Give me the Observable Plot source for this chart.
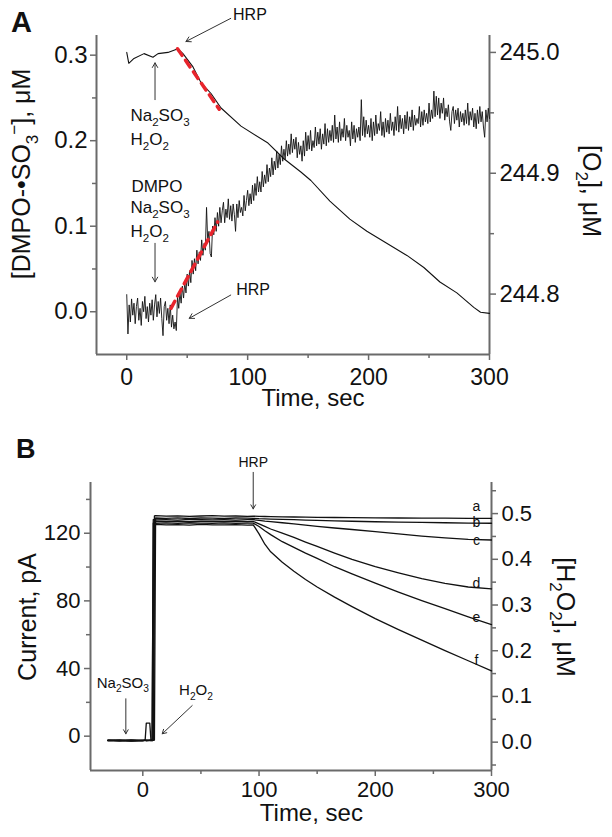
<!DOCTYPE html>
<html><head><meta charset="utf-8">
<script src="https://cdn.jsdelivr.net/npm/d3@7"></script>
<script src="https://cdn.jsdelivr.net/npm/@observablehq/plot@0.6"></script>
<style>
body{margin:0;background:#fff;width:612px;height:837px;overflow:hidden;font-family:"Liberation Sans",Arial,sans-serif}
svg{display:block}
</style></head><body><div id="pa"></div><div id="pb"></div>
<script>
// ---------- Panel A data ----------
const timeA = [
0,1,2,3,4,5,6,7,8,9,10,11,12,13,14,15,16,17,18,19,20,21,22,23,24,25,26,27,28,29,
30,31,32,33,34,35,36,37,38,39,40,41,42,43,44,45,46,47,48,49,50,51,52,53,54,55,56,57,58,59,
60,61,62,63,64,65,66,67,68,69,70,71,72,73,74,75,76,77,78,79,80,81,82,83,84,85,86,87,88,89,
90,91,92,93,94,95,96,97,98,99,100,101,102,103,104,105,106,107,108,109,110,111,112,113,114,115,116,117,118,119,
120,121,122,123,124,125,126,127,128,129,130,131,132,133,134,135,136,137,138,139,140,141,142,143,144,145,146,147,148,149,
150,151,152,153,154,155,156,157,158,159,160,161,162,163,164,165,166,167,168,169,170,171,172,173,174,175,176,177,178,179,
180,181,182,183,184,185,186,187,188,189,190,191,192,193,194,195,196,197,198,199,200,201,202,203,204,205,206,207,208,209,
210,211,212,213,214,215,216,217,218,219,220,221,222,223,224,225,226,227,228,229,230,231,232,233,234,235,236,237,238,239,
240,241,242,243,244,245,246,247,248,249,250,251,252,253,254,255,256,257,258,259,260,261,262,263,264,265,266,267,268,269,
270,271,272,273,274,275,276,277,278,279,280,281,282,283,284,285,286,287,288,289,290,291,292,293,294,295,296,297,298,299,300];
const dmpoA = [
0.020,-0.026,0.008,-0.012,0.015,-0.004,0.010,-0.014,0.006,0.016,
-0.010,0.004,-0.016,0.012,0.000,0.018,-0.008,0.006,-0.012,0.010,
-0.004,0.014,-0.010,0.008,0.020,-0.006,0.012,-0.002,0.016,-0.008,
-0.028,0.006,0.012,-0.010,0.004,-0.014,0.008,-0.018,-0.004,-0.020,
-0.012,-0.022,0.018,0.004,0.022,0.010,0.030,0.016,0.034,0.022,
0.044,0.030,0.048,0.034,0.060,0.044,0.062,0.048,0.072,0.056,
0.070,0.060,0.084,0.066,0.080,0.072,0.122,0.082,0.094,0.068,
0.064,0.100,0.090,0.110,0.094,0.116,0.100,0.122,0.104,0.118,
0.128,0.104,0.120,0.110,0.132,0.108,0.124,0.106,0.126,0.114,
0.094,0.126,0.110,0.130,0.116,0.122,0.112,0.136,0.118,0.130,
0.142,0.124,0.138,0.126,0.148,0.130,0.150,0.136,0.158,0.140,
0.152,0.140,0.164,0.146,0.160,0.150,0.172,0.152,0.168,0.158,
0.180,0.160,0.176,0.166,0.188,0.168,0.184,0.172,0.194,0.176,
0.190,0.178,0.200,0.182,0.196,0.184,0.208,0.186,0.202,0.190,
0.204,0.180,0.198,0.184,0.194,0.176,0.200,0.182,0.210,0.188,
0.206,0.190,0.212,0.188,0.200,0.192,0.216,0.194,0.210,0.196,
0.214,0.190,0.208,0.196,0.220,0.194,0.214,0.198,0.212,0.200,
0.218,0.198,0.230,0.202,0.216,0.198,0.222,0.200,0.214,0.204,
0.226,0.200,0.218,0.204,0.212,0.194,0.222,0.202,0.218,0.198,
0.214,0.204,0.216,0.200,0.248,0.206,0.228,0.204,0.224,0.208,
0.218,0.204,0.226,0.200,0.222,0.206,0.230,0.208,0.220,0.212,
0.234,0.206,0.222,0.204,0.226,0.210,0.224,0.208,0.232,0.212,
0.222,0.206,0.228,0.212,0.240,0.210,0.230,0.214,0.226,0.208,
0.230,0.214,0.234,0.212,0.228,0.216,0.236,0.212,0.230,0.218,
0.226,0.220,0.240,0.216,0.234,0.218,0.236,0.222,0.232,0.220,
0.244,0.222,0.236,0.226,0.258,0.228,0.252,0.230,0.250,0.226,
0.244,0.232,0.250,0.224,0.238,0.228,0.242,0.222,0.212,0.234,
0.240,0.220,0.236,0.224,0.238,0.216,0.234,0.222,0.232,0.218,
0.236,0.220,0.244,0.218,0.234,0.224,0.238,0.216,0.232,0.214,
0.236,0.220,0.240,0.222,0.234,0.216,0.204,0.236,0.222,0.238,
0.226];
const timeO2 = [0,1.7,6,14.3,21.7,25.9,34.1,42.4,46.5,54.8,61.4,69.7,78,94.5,116.8,130,144,152.3,168,184.5,198.6,215,231.7,245.7,259,273,287,292.6,300];
const o2A = [245.000,244.991,244.995,244.999,244.996,244.999,245.000,245.003,244.999,244.988,244.975,244.966,244.954,244.939,244.925,244.912,244.901,244.894,244.877,244.862,244.852,244.842,244.832,244.822,244.810,244.801,244.789,244.785,244.784];
const fitTimeO2 = [42, 76.5];
const fitO2 = [245.003, 244.953];
const fitTimeDmpo = [36.6, 75.2];
const fitDmpo = [0.004, 0.105];
const xTicksA = [0, 100, 200, 300];
const xMinorA = [50, 150, 250];
const yTicksA = [0.0, 0.1, 0.2, 0.3];
const yMinorA = [0.05, 0.15, 0.25];
const o2TicksA = [244.8, 244.9, 245.0];
const o2MinorA = [244.85, 244.95];
const xDomA = [-25, 300];
const yDomA = [-0.05, 0.323];
const o2DomA = [244.75, 245.014];

// ---------- Panel B data ----------
const timeB = [-30,-20,-10,0,2,3,6,7,8,9,10,11,20,30,40,50,60,70,80,90,95,100,105,110,120,130,140,150,165,180,200,220,240,260,280,300];
const curveNames = ["a","b","c","d","e","f"];
const curveA = [-2.4,-2.8,-2.2,-2.6,-2.3,-2.5,-2.4,-2.6,-2.5,-2.4,130.2,130.4,130.1,130.3,130.0,130.2,130.4,130.1,130.2,130.0,130.1,130.0,129.9,129.8,129.7,129.6,129.5,129.4,129.3,129.2,129.1,129.0,128.9,128.9,128.8,128.8];
const curveB = [-2.6,-2.3,-2.9,-2.5,-2.4,-2.7,-2.5,-2.4,-2.6,-2.5,-2.3,129.0,128.8,129.1,128.7,129.0,128.9,128.7,129.0,128.9,128.8,128.6,128.5,128.4,128.2,128.0,127.8,127.6,127.3,127.1,126.8,126.6,126.4,126.2,126.0,125.9];
const curveC = [-2.5,-2.7,-2.4,-2.6,-2.5,-2.3,-2.6,-2.5,-2.4,128.0,128.2,127.9,128.1,127.8,128.2,128.0,127.9,128.1,127.8,128.0,128.0,127.6,127.2,126.9,126.2,125.5,124.8,124.1,123.1,122.2,120.9,119.6,118.3,117.2,116.4,116.0];
const curveD = [-2.7,-2.4,-2.6,-2.5,-2.5,7.7,7.7,-2.4,-2.6,-2.5,127.0,127.2,126.9,127.1,126.8,127.2,127.0,126.9,127.1,126.8,127.0,125.5,124.0,122.5,120.0,117.5,114.8,112.2,108.3,104.6,100.2,96.6,93.2,90.4,88.2,87.1];
const curveE = [-2.3,-2.6,-2.5,-2.8,-2.4,-2.6,-2.5,-2.3,-2.5,126.0,126.2,125.9,126.1,125.8,126.2,126.0,125.9,126.1,125.8,126.0,126.0,124.0,121.5,119.2,115.0,111.6,108.2,105.1,100.2,96.0,90.5,85.2,80.2,75.4,70.6,66.0];
const curveF = [-2.5,-2.4,-2.7,-2.4,-2.6,-2.5,-2.3,-2.6,-2.4,-2.5,125.0,125.2,124.9,125.1,124.8,125.2,125.0,124.9,125.1,124.8,125.0,119.6,113.5,109.0,102.8,97.5,92.6,88.2,82.2,76.6,69.5,63.0,56.8,50.6,44.6,38.6];
const labelTimeB = [287, 287, 287, 287, 287, 287];
const labelValB = [136.0, 126.6, 115.6, 90.2, 70.1, 44.7];
const xTicksB = [0, 100, 200, 300];
const xMinorB = [50, 150, 250];
const yTicksB = [0, 40, 80, 120];
const yMinorB = [20, 60, 100, 140];
const h2o2TicksB = [0.0, 0.1, 0.2, 0.3, 0.4, 0.5];
const h2o2MinorB = [-0.05, 0.05, 0.15, 0.25, 0.35, 0.45, 0.55];
const xDomB = [-45, 300];
const yDomB = [-20.3, 150];
const h2o2DomB = [-0.062, 0.568];

// ---------- shared style ----------
const FONT = "Liberation Sans, Arial, sans-serif";
const AXIS = "#6a6a6a";
const RED = "#e8242c";
const fmt1 = v => (Math.round(v * 10) / 10 + 0).toFixed(1);

function rich(sel, parts, size) {
  let shift = 0;
  for (const [s, k] of parts) {
    const target = k === "sub" ? size * 0.3 : k === "sup" ? -size * 0.42 : 0;
    sel.append("tspan").attr("dy", target - shift).attr("font-size", k ? size * 0.68 : size).text(s);
    shift = target;
  }
}
function addRich(svg, x, y, parts, size, opts = {}) {
  const t = svg.append("text")
    .attr("font-family", FONT).attr("fill", "#111")
    .attr("text-anchor", opts.anchor || "start")
    .attr("transform", `translate(${x},${y})` + (opts.rotate ? ` rotate(${opts.rotate})` : ""));
  if (opts.weight) t.attr("font-weight", opts.weight);
  rich(t, parts, size);
  return t;
}

// ---------- Panel A ----------
const o2ToLeft = d3.scaleLinear().domain(o2DomA).range(yDomA);
const leftToO2 = d3.scaleLinear().domain(yDomA).range(o2DomA);
const dmpoRows = timeA.map((t, i) => ({t, v: dmpoA[i]}));
const o2Rows = timeO2.map((t, i) => ({t, v: o2ToLeft(o2A[i])}));
const fitRows = [
  ...fitTimeO2.map((t, i) => ({t, v: o2ToLeft(fitO2[i]), k: "o2"})),
  ...fitTimeDmpo.map((t, i) => ({t, v: fitDmpo[i], k: "dmpo"}))
];
const arrowsA = [
  {x1: 86, y1: 0.343, x2: 49, y2: 0.316},
  {x1: 23.4, y1: 0.248, x2: 23.4, y2: 0.291},
  {x1: 23.4, y1: 0.080, x2: 23.4, y2: 0.035},
  {x1: 86, y1: 0.0195, x2: 51.7, y2: -0.0077}
];
const hrpA = [{t: 101.9, v: 0.347}, {t: 104.5, v: 0.026}];

const chartA = Plot.plot({
  width: 612, height: 420,
  marginLeft: 96, marginRight: 123, marginTop: 35, marginBottom: 66,
  x: {domain: xDomA},
  y: {domain: yDomA},
  style: {fontFamily: FONT, color: "#111", background: "#fff", overflow: "visible"},
  marks: [
    Plot.axisX(xTicksA, {tickSize: 6, tickPadding: 8, fontSize: 23, stroke: AXIS, strokeWidth: 1.5, label: null}),
    Plot.axisX(xMinorA, {tickSize: 4, tickFormat: () => "", stroke: AXIS, strokeWidth: 1.5, label: null}),
    Plot.axisY(yTicksA, {anchor: "left", tickSize: 6, tickPadding: 3, fontSize: 24, tickFormat: fmt1, stroke: AXIS, strokeWidth: 1.5, label: null}),
    Plot.axisY(yMinorA, {anchor: "left", tickSize: 4, tickFormat: () => "", stroke: AXIS, strokeWidth: 1.5, label: null}),
    Plot.axisY(o2TicksA.map(o2ToLeft), {anchor: "right", tickSize: 6, tickPadding: 4, fontSize: 24, tickFormat: d => fmt1(leftToO2(d)), stroke: AXIS, strokeWidth: 1.5, label: null}),
    Plot.axisY(o2MinorA.map(o2ToLeft), {anchor: "right", tickSize: 4, tickFormat: () => "", stroke: AXIS, strokeWidth: 1.5, label: null}),
    Plot.ruleX([xDomA[0], xDomA[1]], {stroke: AXIS, strokeWidth: 2}),
    Plot.ruleY([yDomA[0]], {stroke: AXIS, strokeWidth: 2}),
    Plot.line(dmpoRows, {x: "t", y: "v", stroke: "#111", strokeWidth: 0.9}),
    Plot.line(o2Rows, {x: "t", y: "v", stroke: "#111", strokeWidth: 1.1}),
    Plot.line(fitRows, {x: "t", y: "v", z: "k", stroke: RED, strokeWidth: 3.5, strokeDasharray: "8,6"}),
    Plot.arrow(arrowsA, {x1: "x1", y1: "y1", x2: "x2", y2: "y2", stroke: "#333", strokeWidth: 1, headLength: 8}),
    Plot.text(hrpA, {x: "t", y: "v", text: () => "HRP", fontSize: 16, fill: "#111"}),
    Plot.text(["Time, sec"], {x: 154, frameAnchor: "bottom", dy: 51, fontSize: 24, fill: "#111"})
  ]
});
document.getElementById("pa").appendChild(chartA);
{
  const sx = chartA.scale("x"), sy = chartA.scale("y");
  const svg = d3.select(chartA);
  const X = t => sx.apply(t), Y = v => sy.apply(v);
  addRich(svg, X(3.5), Y(0.222), [["Na"], ["2", "sub"], ["SO"], ["3", "sub"]], 17);
  addRich(svg, X(3.5), Y(0.194), [["H"], ["2", "sub"], ["O"], ["2", "sub"]], 17);
  addRich(svg, X(4.3), Y(0.140), [["DMPO"]], 17);
  addRich(svg, X(3.5), Y(0.115), [["Na"], ["2", "sub"], ["SO"], ["3", "sub"]], 17);
  addRich(svg, X(3.5), Y(0.087), [["H"], ["2", "sub"], ["O"], ["2", "sub"]], 17);
  addRich(svg, 30, 174, [["[DMPO-•SO"], ["3", "sub"], ["−", "sup"], ["], μM"]], 25, {anchor: "middle", rotate: -90});
  addRich(svg, 583, 191, [["[O"], ["2", "sub"], ["], μM"]], 25, {anchor: "middle", rotate: 90});
  addRich(svg, 11, 32, [["A"]], 29, {weight: "bold"});
}

// ---------- Panel B ----------
const h2o2ToLeft = d3.scaleLinear().domain(h2o2DomB).range(yDomB);
const leftToH2o2 = d3.scaleLinear().domain(yDomB).range(h2o2DomB);
const curvesB = [curveA, curveB, curveC, curveD, curveE, curveF];
const rowsB = curvesB.flatMap((vals, j) => timeB.map((t, i) => ({t, v: vals[i], c: curveNames[j]})));
const labelRowsB = curveNames.map((c, i) => ({c, t: labelTimeB[i], v: labelValB[i]}));
const arrowsB = [
  {x1: 95, y1: 156, x2: 95, y2: 134.4},
  {x1: -14.6, y1: 22.1, x2: -14.6, y2: 1.4},
  {x1: 42.5, y1: 18.1, x2: 16.7, y2: 1.4}
];

const chartB = Plot.plot({
  width: 612, height: 417,
  marginLeft: 90, marginRight: 121, marginTop: 62, marginBottom: 67,
  x: {domain: xDomB},
  y: {domain: yDomB},
  style: {fontFamily: FONT, color: "#111", background: "#fff", overflow: "visible"},
  marks: [
    Plot.axisX(xTicksB, {tickSize: 6, tickPadding: 5, fontSize: 22, stroke: AXIS, strokeWidth: 1.5, label: null}),
    Plot.axisX(xMinorB, {tickSize: 4, tickFormat: () => "", stroke: AXIS, strokeWidth: 1.5, label: null}),
    Plot.axisY(yTicksB, {anchor: "left", tickSize: 6, tickPadding: 4, fontSize: 22, tickFormat: d3.format("d"), stroke: AXIS, strokeWidth: 1.5, label: null}),
    Plot.axisY(yMinorB, {anchor: "left", tickSize: 4, tickFormat: () => "", stroke: AXIS, strokeWidth: 1.5, label: null}),
    Plot.axisY(h2o2TicksB.map(h2o2ToLeft), {anchor: "right", tickSize: 6, tickPadding: 4, fontSize: 22, tickFormat: d => fmt1(leftToH2o2(d)), stroke: AXIS, strokeWidth: 1.5, label: null}),
    Plot.axisY(h2o2MinorB.map(h2o2ToLeft), {anchor: "right", tickSize: 4, tickFormat: () => "", stroke: AXIS, strokeWidth: 1.5, label: null}),
    Plot.ruleX([xDomB[0], xDomB[1]], {stroke: AXIS, strokeWidth: 2}),
    Plot.ruleY([yDomB[0]], {stroke: AXIS, strokeWidth: 2}),
    Plot.line(rowsB, {x: "t", y: "v", z: "c", stroke: "#111", strokeWidth: 1.3}),
    Plot.text(labelRowsB, {x: "t", y: "v", text: "c", fontSize: 14, fill: "#111"}),
    Plot.arrow(arrowsB, {x1: "x1", y1: "y1", x2: "x2", y2: "y2", stroke: "#333", strokeWidth: 1, headLength: 7}),
    Plot.text([{t: 95, v: 161.7}], {x: "t", y: "v", text: () => "HRP", fontSize: 14, fill: "#111"}),
    Plot.text(["Time, sec"], {x: 145, frameAnchor: "bottom", dy: 50, fontSize: 24, fill: "#111"})
  ]
});
document.getElementById("pb").appendChild(chartB);
{
  const sx = chartB.scale("x"), sy = chartB.scale("y");
  const svg = d3.select(chartB);
  const X = t => sx.apply(t), Y = v => sy.apply(v);
  addRich(svg, X(-39.2), Y(28.2), [["Na"], ["2", "sub"], ["SO"], ["3", "sub"]], 15);
  addRich(svg, X(31.6), Y(24.0), [["H"], ["2", "sub"], ["O"], ["2", "sub"]], 15);
  addRich(svg, 36, 197, [["Current, pA"]], 25, {anchor: "middle", rotate: -90});
  addRich(svg, 557, 197, [["[H"], ["2", "sub"], ["O"], ["2", "sub"], ["], μM"]], 25, {anchor: "middle", rotate: 90});
  addRich(svg, 16, 38, [["B"]], 27, {weight: "bold"});
}
</script></body></html>
